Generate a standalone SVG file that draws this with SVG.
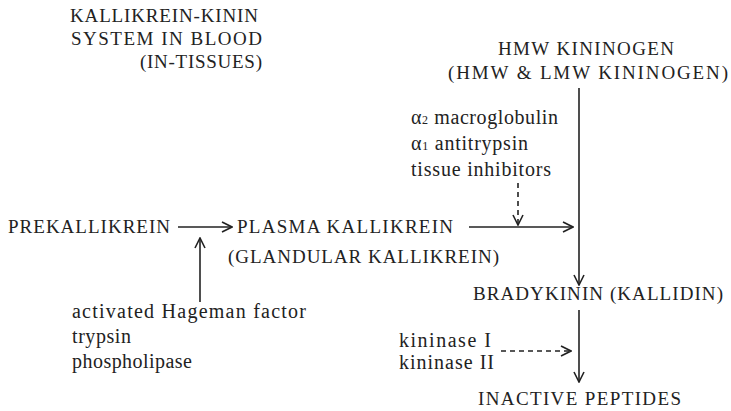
<svg xmlns="http://www.w3.org/2000/svg" width="731" height="411" viewBox="0 0 731 411">
<style>
text{font-family:"Liberation Serif","Times New Roman",serif;fill:#222;font-size:19px}
.lc{font-size:20px}
.ln{stroke:#222;stroke-width:1.6;fill:none}
.dash{stroke-dasharray:5 4}
</style>
<defs>
<marker id="ah" viewBox="0 0 12 12" refX="11" refY="6" markerWidth="12" markerHeight="12" markerUnits="userSpaceOnUse" orient="auto">
<path d="M1,1 L11,6 L1,11" fill="none" stroke="#222" stroke-width="1.6"/>
</marker>
</defs>
<rect width="731" height="411" fill="#fff"/>
<g id="title">
<text x="70" y="22" textLength="188" lengthAdjust="spacing">KALLIKREIN-KININ</text>
<text x="71" y="45" textLength="191" lengthAdjust="spacing">SYSTEM IN BLOOD</text>
<text x="140" y="68" textLength="122" lengthAdjust="spacing">(IN-TISSUES)</text>
</g>
<g id="kininogen">
<text x="498" y="55" textLength="176" lengthAdjust="spacing">HMW KININOGEN</text>
<text x="448" y="79" textLength="280" lengthAdjust="spacing">(HMW &amp; LMW  KININOGEN)</text>
</g>
<g id="inhibitors">
<text class="lc" x="411" y="124" textLength="147" lengthAdjust="spacing">α<tspan font-size="12">2</tspan> macroglobulin</text>
<text class="lc" x="411" y="150" textLength="117" lengthAdjust="spacing">α<tspan font-size="12">1</tspan> antitrypsin</text>
<text class="lc" x="411" y="176" textLength="140" lengthAdjust="spacing">tissue  inhibitors</text>
</g>
<g id="prekallikrein">
<text x="8" y="233" textLength="162" lengthAdjust="spacing">PREKALLIKREIN</text>
</g>
<g id="kallikrein">
<text x="237" y="233" textLength="216" lengthAdjust="spacing">PLASMA KALLIKREIN</text>
<text x="228" y="263" textLength="271" lengthAdjust="spacing">(GLANDULAR KALLIKREIN)</text>
</g>
<g id="activators">
<text class="lc" x="72" y="318" textLength="234" lengthAdjust="spacing">activated Hageman  factor</text>
<text class="lc" x="72" y="343" textLength="59" lengthAdjust="spacing">trypsin</text>
<text class="lc" x="72" y="368" textLength="120" lengthAdjust="spacing">phospholipase</text>
</g>
<g id="bradykinin">
<text x="473" y="300" textLength="250" lengthAdjust="spacing">BRADYKININ (KALLIDIN)</text>
</g>
<g id="kininases">
<text class="lc" x="399" y="347" textLength="92" lengthAdjust="spacing">kininase  I</text>
<text class="lc" x="399" y="369" textLength="95" lengthAdjust="spacing">kininase  II</text>
</g>
<g id="inactive">
<text x="478" y="405" textLength="203" lengthAdjust="spacing">INACTIVE PEPTIDES</text>
</g>
<g id="connectors">
<line class="ln" x1="178" y1="227" x2="232" y2="227" marker-end="url(#ah)"/>
<line class="ln" x1="200" y1="302" x2="200" y2="238" marker-end="url(#ah)"/>
<line class="ln" x1="469" y1="227" x2="573" y2="227" marker-end="url(#ah)"/>
<line class="ln dash" x1="518" y1="183" x2="518" y2="225" marker-end="url(#ah)"/>
<line class="ln" x1="579" y1="88" x2="579" y2="285" marker-end="url(#ah)"/>
<line class="ln" x1="579" y1="310" x2="579" y2="382" marker-end="url(#ah)"/>
<line class="ln dash" x1="501" y1="351" x2="571" y2="351" marker-end="url(#ah)"/>
</g>
</svg>
